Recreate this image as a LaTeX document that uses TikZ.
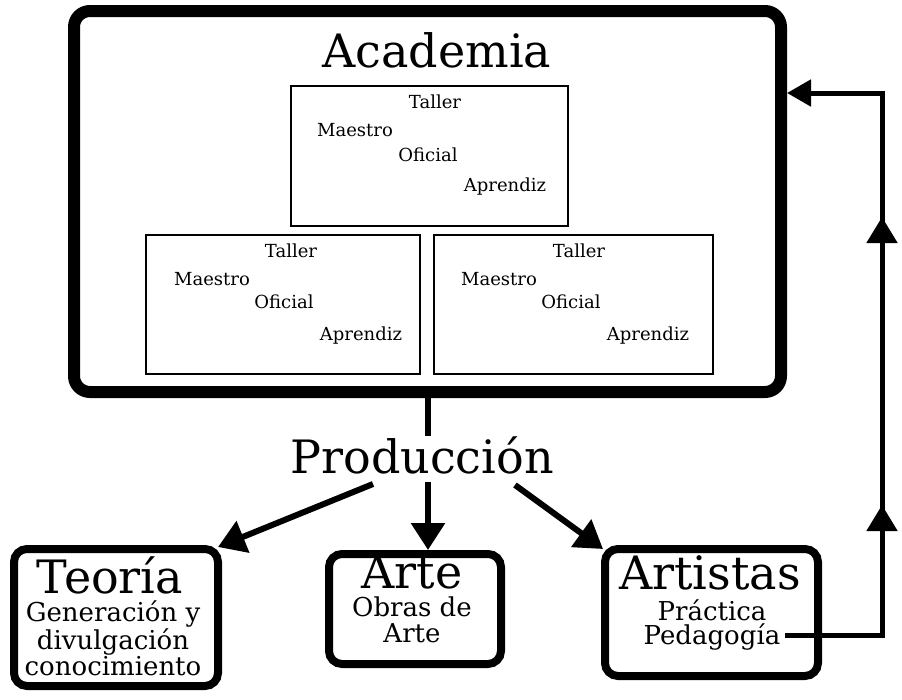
\documentclass[tikz,border=0pt]{standalone}
\usepackage{fontspec}
\setmainfont{DejaVu Serif}
\usetikzlibrary{arrows.meta,decorations.markings}
\begin{document}
\begin{tikzpicture}[x=1pt,y=-1pt,
  bigtxt/.style={inner sep=0pt,font=\fontsize{46}{50}\selectfont},
  subtxt/.style={inner sep=0pt,align=center,font=\fontsize{26}{26}\selectfont},
  smalltxt/.style={inner sep=0pt,font=\fontsize{18}{20}\selectfont},
  taller/.style={draw,line width=2pt,inner sep=0pt},
  bottombox/.style={draw,line width=8pt,rounded corners=13pt,inner sep=0pt},
  conn/.style={line width=6pt},
  bigarrow/.style={line width=6pt,-{Triangle[length=27pt,width=33pt]}},
  fb/.style={line width=5pt}
]
\path[fill=white] (0,0) rectangle (902,699);
\useasboundingbox (0,0) rectangle (902,699);

% Academia box
\node[draw,line width=12pt,rounded corners=16pt,inner sep=0pt,
      minimum width=707pt,minimum height=381pt] (acad) at (427.5,201.5) {};
\node[bigtxt] (acadt) at (437,50) {Academia};

% Top taller
\node[taller,minimum width=277pt,minimum height=140pt] (t1) at (429.5,156) {};
\node[smalltxt] (t1a) at (435,102) {Taller};
\node[smalltxt] (t1b) at (355,130) {Maestro};
\node[smalltxt] (t1c) at (428,155) {Oficial};
\node[smalltxt] (t1d) at (505,187) {Aprendiz};

% Bottom-left taller
\node[taller,minimum width=274pt,minimum height=139pt] (t2) at (283,304.5) {};
\node[smalltxt] (t2a) at (291,251) {Taller};
\node[smalltxt] (t2b) at (212,279) {Maestro};
\node[smalltxt] (t2c) at (284,302) {Oficial};
\node[smalltxt] (t2d) at (361,336) {Aprendiz};

% Bottom-right taller
\node[taller,minimum width=279pt,minimum height=139pt] (t3) at (573.5,304.5) {};
\node[smalltxt] (t3a) at (579,251) {Taller};
\node[smalltxt] (t3b) at (499,279) {Maestro};
\node[smalltxt] (t3c) at (571,302) {Oficial};
\node[smalltxt] (t3d) at (648,336) {Aprendiz};

% Produccion
\node[bigtxt] (prod) at (422,455) {Producción};
\draw[conn] (acad.south) -- (acad.south |- prod.north);

% Bottom boxes
\node[bottombox,minimum width=204pt,minimum height=137pt] (teo) at (116,617.5) {};
\node[bigtxt] (teot) at (110,575) {Teoría};
\node[subtxt] (teos) at (113,638) {Generación y\\divulgación\\conocimiento};

\node[bottombox,minimum width=172pt,minimum height=110pt] (arte) at (415,609) {};
\node[bigtxt] (artet) at (412,572) {Arte};
\node[subtxt] (artes) at (412,620) {Obras de\\Arte};

\node[bottombox,minimum width=213pt,minimum height=127pt] (arti) at (711.5,612.5) {};
\node[bigtxt] (artit) at (710,573) {Artistas};
\node[subtxt] (artis1) at (712,610) {Práctica};
\node[subtxt] (ped) at (712,637) {Pedagogía};

% Arrows from Produccion
\coordinate (s1) at (373,484);
\coordinate (s2) at (428,482);
\coordinate (s3) at (515,485);
\draw[bigarrow] (s1) -- ([shift={(-4pt,-2pt)}]teo.north east);
\draw[bigarrow] (s2) -- (s2 |- arte.north);
\draw[bigarrow] (s3) -- ([shift={(2pt,-4pt)}]arti.north west);

% Feedback loop
\coordinate (c1) at (882,635);
\coordinate (c2) at (882,93);
\coordinate (p1) at (785,635);
\draw[fb,-{Triangle[length=24pt,width=26pt]},
  postaction={decorate,decoration={markings,
    mark=at position 227pt with {\arrow{Triangle[length=26pt,width=30pt]}},
    mark=at position 515pt with {\arrow{Triangle[length=26pt,width=30pt]}}}}]
  (p1) -- (c1) -- (c2) -- (acad.east |- c2);
\end{tikzpicture}
\end{document}
